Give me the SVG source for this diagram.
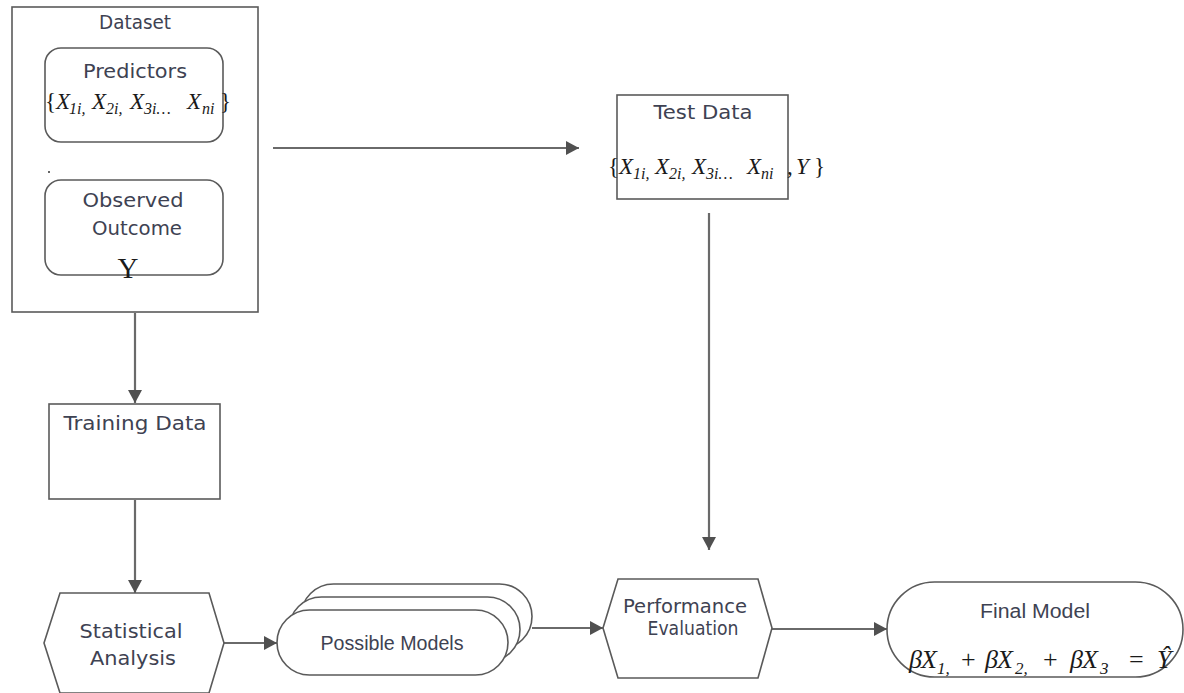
<svg xmlns="http://www.w3.org/2000/svg" width="1184" height="693" viewBox="0 0 1184 693">
  <defs>
    <marker id="arrow" markerUnits="userSpaceOnUse" markerWidth="14" markerHeight="14" refX="13" refY="7" orient="auto">
      <path d="M0,0 L13,7 L0,14 Z" fill="#505050"/>
    </marker>
    <style>
      .box { fill: #ffffff; stroke: #5a5a5a; stroke-width: 1.6; }
      .edge { fill: none; stroke: #6a6a6a; stroke-width: 2.2; marker-end: url(#arrow); }
      .lbl { font-family: "DejaVu Sans", Verdana, sans-serif; font-size: 20px; fill: #3e4252; text-anchor: middle; }
      .lbl2 { font-family: "Liberation Sans", Arial, sans-serif; font-size: 20px; fill: #3e4252; text-anchor: middle; }
      .math { font-family: "Liberation Serif", "Times New Roman", serif; font-size: 23px; fill: #1a1a1a; }
      .big { font-size: 26px; }
      .it { font-style: italic; }
      .sub { font-size: 16px; font-style: italic; }
      .big .sub { font-size: 17px; }
      .yy { font-size: 29px; }
    </style>
  </defs>

  <rect width="1184" height="693" fill="#ffffff"/>

  <!-- connectors -->
  <g id="connectors">
    <line class="edge" x1="273" y1="148" x2="579" y2="148"/>
    <line class="edge" x1="709" y1="213" x2="709" y2="550"/>
    <line class="edge" x1="135" y1="313" x2="135" y2="403"/>
    <line class="edge" x1="135" y1="500" x2="135" y2="593"/>
    <line class="edge" x1="224" y1="643" x2="277" y2="643"/>
    <line class="edge" x1="532" y1="628" x2="603" y2="628"/>
    <line class="edge" x1="772" y1="629" x2="887" y2="629"/>
  </g>

  <!-- dataset container -->
  <g id="dataset">
    <rect class="box" x="12" y="7" width="246" height="305"/>
    <text class="lbl" x="135" y="29" textLength="72" lengthAdjust="spacingAndGlyphs">Dataset</text>
  </g>

  <g id="predictors">
    <rect class="box" x="45" y="48" width="178" height="94" rx="16"/>
    <text class="lbl" x="135" y="78" textLength="104" lengthAdjust="spacingAndGlyphs">Predictors</text>
    <text class="math">
      <tspan x="45" y="109">{</tspan><tspan class="it" x="56">X</tspan><tspan class="sub" x="69" dy="5">1i,</tspan><tspan class="it" x="92" dy="-5">X</tspan><tspan class="sub" x="106" dy="5">2i,</tspan><tspan class="it" x="130" dy="-5">X</tspan><tspan class="sub" x="144" dy="5">3i…</tspan><tspan class="it" x="187" dy="-5">X</tspan><tspan class="sub" x="202" dy="5">ni</tspan><tspan x="220" dy="-5">}</tspan>
    </text>
    <circle cx="49" cy="172" r="1" fill="#333333"/>
  </g>

  <g id="observed-outcome">
    <rect class="box" x="45" y="180" width="178" height="95" rx="16"/>
    <text class="lbl" x="133" y="207" textLength="101" lengthAdjust="spacingAndGlyphs">Observed</text>
    <text class="lbl" x="137" y="235" textLength="90" lengthAdjust="spacingAndGlyphs">Outcome</text>
    <text class="math yy" x="128" y="278" text-anchor="middle">Y</text>
  </g>

  <g id="test-data">
    <rect class="box" x="617" y="95" width="171" height="104"/>
    <text class="lbl" x="703" y="119" textLength="99" lengthAdjust="spacingAndGlyphs">Test Data</text>
    <text class="math">
      <tspan x="608" y="174">{</tspan><tspan class="it" x="619">X</tspan><tspan class="sub" x="633" dy="5">1i,</tspan><tspan class="it" x="655" dy="-5">X</tspan><tspan class="sub" x="669" dy="5">2i,</tspan><tspan class="it" x="692" dy="-5">X</tspan><tspan class="sub" x="706" dy="5">3i…</tspan><tspan class="it" x="747" dy="-5">X</tspan><tspan class="sub" x="761" dy="5">ni</tspan><tspan x="787" dy="-5">,</tspan><tspan class="it" x="796">Y</tspan><tspan x="814">}</tspan>
    </text>
  </g>

  <g id="training-data">
    <rect class="box" x="49" y="404" width="171" height="95"/>
    <text class="lbl" x="135" y="430" textLength="143" lengthAdjust="spacingAndGlyphs">Training Data</text>
  </g>

  <g id="statistical-analysis">
    <polygon class="box" points="60,593 209,593 224,643 209,693 60,693 44,643"/>
    <text class="lbl" x="131" y="638" textLength="103" lengthAdjust="spacingAndGlyphs">Statistical</text>
    <text class="lbl" x="133" y="665" textLength="86" lengthAdjust="spacingAndGlyphs">Analysis</text>
  </g>

  <g id="possible-models">
    <rect class="box" x="301" y="584" width="231" height="65" rx="32.5"/>
    <rect class="box" x="289" y="597" width="231" height="65" rx="32.5"/>
    <rect class="box" x="277" y="610" width="231" height="65" rx="32.5"/>
    <text class="lbl2" x="392" y="650" textLength="143" lengthAdjust="spacingAndGlyphs">Possible Models</text>
  </g>

  <g id="performance-evaluation">
    <polygon class="box" points="618,579 758,579 772,628 758,678 618,678 603,628"/>
    <text class="lbl" x="685" y="613" textLength="124" lengthAdjust="spacingAndGlyphs">Performance</text>
    <text class="lbl" x="693" y="635" textLength="91" lengthAdjust="spacingAndGlyphs">Evaluation</text>
  </g>

  <g id="final-model">
    <rect class="box" x="887" y="582" width="296" height="95" rx="47.5"/>
    <text class="lbl2" x="1035" y="618" textLength="110" lengthAdjust="spacingAndGlyphs">Final Model</text>
    <text class="math big">
      <tspan class="it" x="909" y="668">β</tspan><tspan class="it" x="921">X</tspan><tspan class="sub" x="937" dy="6">1,</tspan><tspan x="961" dy="-6">+</tspan><tspan class="it" x="985">β</tspan><tspan class="it" x="997">X</tspan><tspan class="sub" x="1015" dy="6">2,</tspan><tspan x="1043" dy="-6">+</tspan><tspan class="it" x="1070">β</tspan><tspan class="it" x="1082">X</tspan><tspan class="sub" x="1100" dy="6">3</tspan><tspan x="1129" dy="-6">=</tspan><tspan class="it" x="1157">Ŷ</tspan>
    </text>
  </g>
</svg>
